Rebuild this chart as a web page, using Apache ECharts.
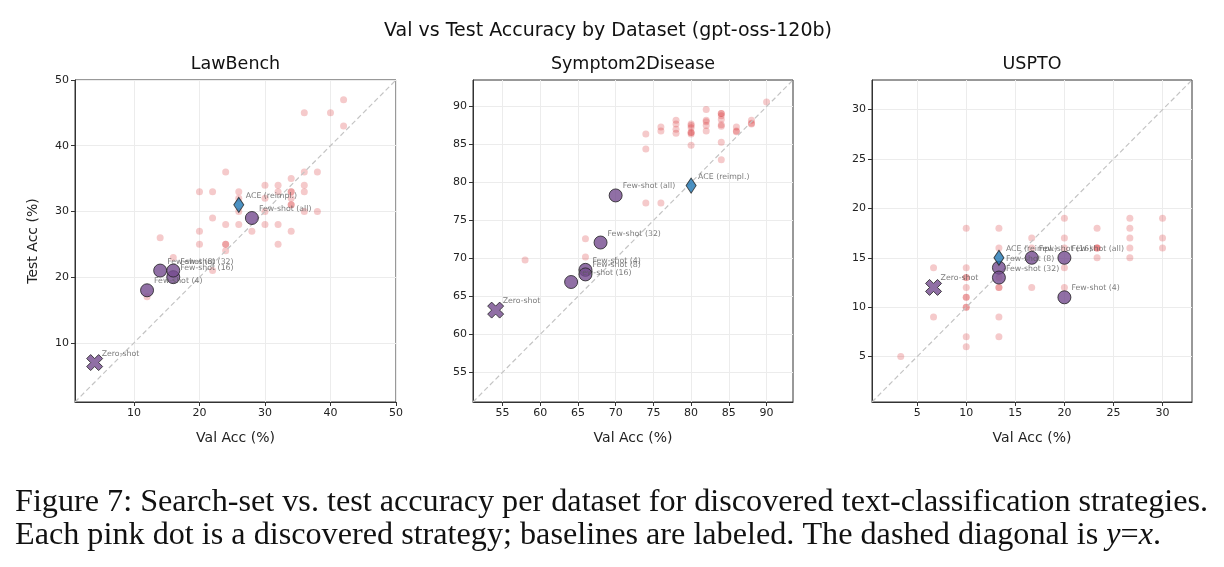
<!DOCTYPE html>
<html>
<head>
<meta charset="utf-8">
<script src="https://cdn.jsdelivr.net/npm/echarts@6/dist/echarts.min.js"></script>
<style>
  html, body { margin: 0; padding: 0; background: #fff; }
  #chart { width: 1224px; height: 567px; }
</style>
</head>
<body>
<div id="chart"></div>
<script>
// baselines, same order in every panel
const baseNames = ['Zero-shot', 'Few-shot (4)', 'Few-shot (8)', 'Few-shot (16)', 'Few-shot (32)', 'Few-shot (all)', 'ACE (reimpl.)']

// LawBench
const lawPinkVal = [42, 36, 40, 42, 24, 36, 38, 34, 20, 22, 26, 30, 32, 34, 34, 36, 36, 30, 34, 34, 34, 26, 36, 38, 30, 22, 24, 26, 30, 32, 20, 28, 34, 14, 20, 24, 24, 32, 24, 16, 22, 12, 32, 26]
const lawPinkTest = [47, 45, 45, 43, 36, 36, 36, 35, 33, 33, 33, 34, 34, 33, 33, 34, 33, 32, 32, 31, 31, 30, 30, 30, 30, 29, 28, 28, 28, 28, 27, 27, 27, 26, 25, 25, 25, 25, 24, 23, 21, 17, 33, 32]
const lawBaseVal = [4, 12, 14, 16, 16, 28, 26]
const lawBaseTest = [7, 18, 21, 20, 21, 29, 31]

// Symptom2Disease
const symPinkVal = [74, 74, 76, 76, 78, 78, 78, 78, 80, 80, 80, 80, 80, 80, 80, 82, 82, 82, 82, 82, 84, 84, 84, 84, 84, 84, 84, 84, 86, 86, 86, 88, 88, 88, 90, 74, 76, 66, 66, 58]
const symPinkTest = [86.4, 84.4, 87.3, 86.8, 88.2, 87.7, 87.0, 86.5, 87.7, 87.5, 87.2, 86.6, 86.4, 86.6, 84.9, 89.6, 88.2, 88.0, 87.5, 86.8, 89.1, 89.1, 88.8, 88.3, 87.6, 87.4, 85.3, 83.0, 87.3, 86.8, 86.7, 88.2, 87.7, 87.8, 90.6, 77.3, 77.3, 72.6, 70.2, 69.8]
const symBaseVal = [54.1, 66, 66, 64.1, 68, 70, 80]
const symBaseTest = [63.2, 68.5, 67.9, 66.9, 72.1, 78.3, 79.6]

// USPTO
const usPinkVal = [3.33, 6.67, 6.67, 10, 10, 10, 10, 10, 10, 10, 10, 10, 10, 10, 13.33, 13.33, 13.33, 13.33, 13.33, 13.33, 13.33, 16.67, 16.67, 16.67, 20, 20, 20, 20, 20, 23.33, 23.33, 23.33, 23.33, 23.33, 26.67, 26.67, 26.67, 26.67, 26.67, 30, 30, 30]
const usPinkTest = [5, 14, 9, 18, 14, 13, 13, 12, 11, 11, 10, 10, 7, 6, 18, 16, 12, 12, 9, 7, 13, 17, 16, 12, 19, 17, 16, 14, 12, 18, 16, 16, 16, 15, 19, 18, 17, 16, 15, 19, 17, 16]
const usBaseVal = [6.67, 20, 13.33, 16.67, 13.33, 20, 13.33]
const usBaseTest = [12, 11, 14, 15, 13, 15, 15]

const panels = [
  { title: 'LawBench', left: 75, width: 321, min: 1, max: 50, ticks: [10, 20, 30, 40, 50],
    pinkVal: lawPinkVal, pinkTest: lawPinkTest, baseVal: lawBaseVal, baseTest: lawBaseTest },
  { title: 'Symptom2Disease', left: 473, width: 320, min: 51.1, max: 93.5, ticks: [55, 60, 65, 70, 75, 80, 85, 90],
    pinkVal: symPinkVal, pinkTest: symPinkTest, baseVal: symBaseVal, baseTest: symBaseTest },
  { title: 'USPTO', left: 872, width: 320, min: 0.4, max: 33, ticks: [5, 10, 15, 20, 25, 30],
    pinkVal: usPinkVal, pinkTest: usPinkTest, baseVal: usBaseVal, baseTest: usBaseTest }
]

const FONT = 'DejaVu Sans'
const SERIF = 'Liberation Serif'
const PURPLE = '#744b8f'
const X_PATH = 'path://M0,1.5 L1.5,0 L3,1.5 L4.5,0 L6,1.5 L4.5,3 L6,4.5 L4.5,6 L3,4.5 L1.5,6 L0,4.5 L1.5,3 Z'

const labelStyle = {
  show: true,
  formatter: '{b}',
  position: 'inside',
  align: 'left',
  verticalAlign: 'middle',
  offset: [7, -9],
  fontFamily: FONT,
  fontSize: 7.8,
  color: '#5a5a5a'
}

function axis (p, i, isX) {
  return {
    type: 'value',
    gridIndex: i,
    min: p.min,
    max: p.max,
    name: isX ? 'Val Acc (%)' : (i === 0 ? 'Test Acc (%)' : ''),
    nameLocation: 'middle',
    nameGap: isX ? 29 : 35,
    nameTextStyle: { fontFamily: FONT, fontSize: 14, color: '#222' },
    axisLine: { show: true, onZero: false, lineStyle: { color: '#333', width: 1 } },
    axisTick: { show: true, inside: false, length: 4, customValues: p.ticks, lineStyle: { color: '#333' } },
    axisLabel: { show: true, customValues: p.ticks, margin: 6, fontFamily: FONT, fontSize: 11, color: '#222' },
    splitLine: { show: true, lineStyle: { color: '#ececec', width: 1 } }
  }
}

let grids = []
let xAxes = []
let yAxes = []
let series = []
let graphics = []

panels.forEach((p, i) => {
  grids.push({ left: p.left, top: 80, width: p.width, height: 322, show: true, borderColor: '#333', borderWidth: 1, backgroundColor: 'transparent' })
  xAxes.push(axis(p, i, true))
  yAxes.push(axis(p, i, false))

  series.push({
    type: 'scatter',
    xAxisIndex: i,
    yAxisIndex: i,
    symbolSize: 7,
    itemStyle: { color: 'rgba(214,39,40,0.3)' },
    data: p.pinkVal.map((v, k) => [v, p.pinkTest[k]]),
    z: 2
  })
  series.push({
    type: 'line',
    xAxisIndex: i,
    yAxisIndex: i,
    symbol: 'none',
    lineStyle: { color: '#c4c4c4', width: 1.2, type: [5, 3] },
    data: [[p.min, p.min], [p.max, p.max]],
    z: 3
  })
  let baseData = baseNames.map((n, k) => {
    let item = { name: n, value: [p.baseVal[k], p.baseTest[k]] }
    if (n === 'Zero-shot') {
      item.symbol = X_PATH
      item.symbolSize = 16
    } else if (n.startsWith('ACE')) {
      item.symbol = 'diamond'
      item.symbolSize = [10, 15]
      item.itemStyle = { color: '#1f77b4' }
    }
    return item
  })
  series.push({
    type: 'scatter',
    xAxisIndex: i,
    yAxisIndex: i,
    symbol: 'circle',
    symbolSize: 13,
    itemStyle: { color: PURPLE, borderColor: '#222', borderWidth: 1 },
    label: labelStyle,
    data: baseData,
    z: 4
  })

  graphics.push({
    type: 'text',
    x: p.left + p.width / 2,
    y: 64,
    style: { text: p.title, fontFamily: FONT, fontSize: 17.5, fill: '#111', align: 'center', verticalAlign: 'middle' }
  })
})

graphics.push({
  type: 'text',
  x: 608,
  y: 31,
  style: { text: 'Val vs Test Accuracy by Dataset (gpt-oss-120b)', fontFamily: FONT, fontSize: 19, fill: '#111', align: 'center', verticalAlign: 'middle' }
})
graphics.push({
  type: 'text',
  x: 15,
  y: 503,
  style: { text: 'Figure 7: Search-set vs. test accuracy per dataset for discovered text-classification strategies.', fontFamily: SERIF, fontSize: 32.2, fill: '#111', align: 'left', verticalAlign: 'middle' }
})
graphics.push({
  type: 'text',
  x: 15,
  y: 536,
  style: {
    text: 'Each pink dot is a discovered strategy; baselines are labeled. The dashed diagonal is {i|y}={i|x}.',
    fontFamily: SERIF,
    fontSize: 32.2,
    fill: '#111',
    align: 'left',
    verticalAlign: 'middle',
    rich: { i: { fontStyle: 'italic', fontFamily: SERIF, fontSize: 32.2, fill: '#111' } }
  }
})

const chart = echarts.init(document.getElementById('chart'))
chart.setOption({
  animation: false,
  backgroundColor: '#fff',
  grid: grids,
  xAxis: xAxes,
  yAxis: yAxes,
  series: series,
  graphic: graphics
})
</script>
</body>
</html>
